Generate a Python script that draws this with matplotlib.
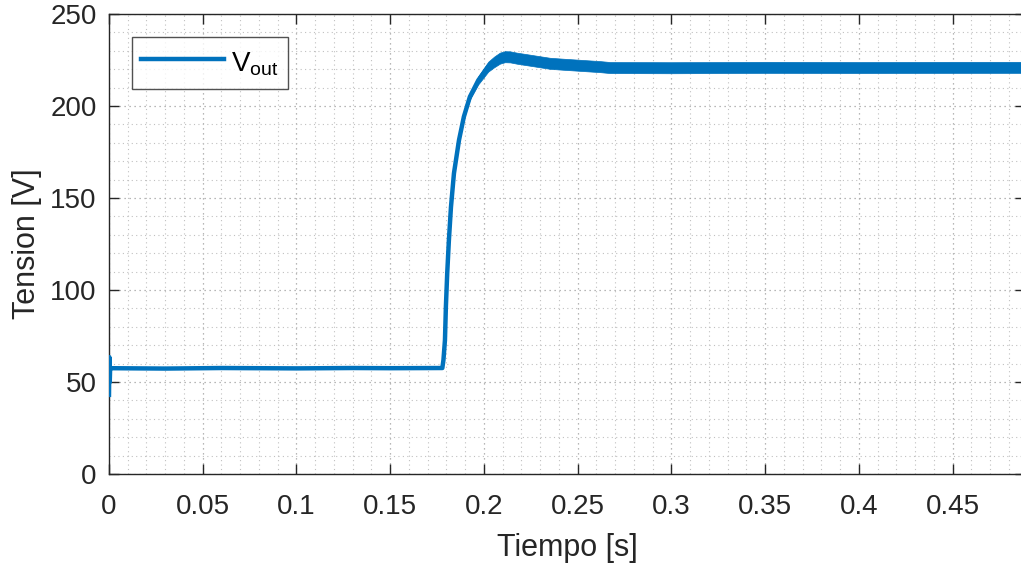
import matplotlib
matplotlib.use("Agg")
import matplotlib.pyplot as plt
import numpy as np
from matplotlib.ticker import MultipleLocator

plt.rcParams['font.family'] = ['Liberation Sans', 'DejaVu Sans']
plt.rcParams['mathtext.fontset'] = 'custom'
plt.rcParams['mathtext.rm'] = 'Liberation Sans'
plt.rcParams['mathtext.it'] = 'Liberation Sans'

# Time [s] and voltage [V]
t = [0.0, 0.0002, 0.0004, 0.0006, 0.001, 0.03, 0.06, 0.10, 0.13, 0.15, 0.1778,
     0.1784, 0.1792, 0.1797, 0.1804, 0.1813, 0.1824, 0.1840, 0.1867, 0.1893,
     0.1925, 0.1970, 0.2023, 0.2055, 0.2085, 0.2112, 0.2140, 0.2175, 0.2245,
     0.2352, 0.2423, 0.2619, 0.2672, 0.3000, 0.3500, 0.4000, 0.4500, 0.4886]
v = [43.0, 63.5, 50.0, 57.5, 57.5, 57.3, 57.6, 57.4, 57.6, 57.5, 57.6,
     62.0, 72.8, 91.0, 109.0, 127.0, 145.0, 163.4, 181.5, 194.2,
     205.0, 214.0, 221.4, 224.0, 226.0, 226.8, 226.7, 226.0, 224.9,
     223.2, 222.7, 221.4, 220.9, 220.8, 221.0, 220.9, 221.0, 221.0]
# half-width of the noise band [V]
band = [0.0, 0.0, 0.0, 0.0, 0.0, 0.0, 0.0, 0.0, 0.0, 0.0, 0.0,
        0.0, 0.0, 0.0, 0.0, 0.0, 0.0, 0.0, 0.3, 0.8,
        1.5, 2.2, 2.7, 2.9, 3.0, 3.0, 3.0, 3.0, 3.0,
        3.0, 3.0, 3.0, 3.0, 3.0, 3.0, 3.0, 3.0, 3.0]

xticks = [0, 0.05, 0.1, 0.15, 0.2, 0.25, 0.3, 0.35, 0.4, 0.45]
xticklabels = ['0', '0.05', '0.1', '0.15', '0.2', '0.25', '0.3', '0.35', '0.4', '0.45']
yticks = [0, 50, 100, 150, 200, 250]

color = '#0072BD'
dark = '#262626'

fig = plt.figure(figsize=(10.21, 5.64), dpi=100)
W, H = 1021, 564
ax = fig.add_axes([109 / W, 1 - 474 / H, (1025 - 109) / W, (474 - 14) / H])

ta = np.array(t)
va = np.array(v)
ba = np.array(band)
ax.fill_between(ta, va - ba, va + ba, color=color, lw=0.5, edgecolor=color, zorder=3)
ax.plot(t, v, color=color, lw=3.2, label=r'V$_{\mathrm{out}}$', zorder=4,
        solid_joinstyle='round')

ax.set_xlim(0, 0.4886)
ax.set_ylim(0, 250)
ax.set_xticks(xticks)
ax.set_xticklabels(xticklabels)
ax.set_yticks(yticks)
ax.xaxis.set_minor_locator(MultipleLocator(0.01))
ax.yaxis.set_minor_locator(MultipleLocator(10))

ax.grid(which='major', linestyle=(0, (1, 3)), color='#a0a0a0', lw=0.9)
ax.grid(which='minor', linestyle=(0, (1, 3)), color='#c0c0c0', lw=0.8)
ax.set_axisbelow(True)

ax.tick_params(which='major', direction='in', length=7, width=1.0, color=dark,
               labelsize=20, labelcolor=dark, top=True, right=True)
ax.tick_params(axis='x', which='major', pad=14.5)
ax.tick_params(axis='y', which='major', pad=9)
ax.tick_params(which='minor', length=0)
for s in ax.spines.values():
    s.set_color(dark)
    s.set_linewidth(1.0)

ax.set_xlabel('Tiempo [s]', fontsize=22, color=dark, labelpad=9)
ax.set_ylabel('Tension [V]', fontsize=22, color=dark, labelpad=6)

leg = ax.legend(loc='upper left', bbox_to_anchor=(23 / 916, 1 - 23 / 460),
                fontsize=20, frameon=True, fancybox=False, edgecolor=dark,
                handlelength=3.0, handleheight=1.5, borderpad=0.32,
                handletextpad=0.25, borderaxespad=0)
leg.get_frame().set_linewidth(1.0)
leg.get_lines()[0].set_linewidth(3.2)

fig.savefig('out.png', dpi=100)
